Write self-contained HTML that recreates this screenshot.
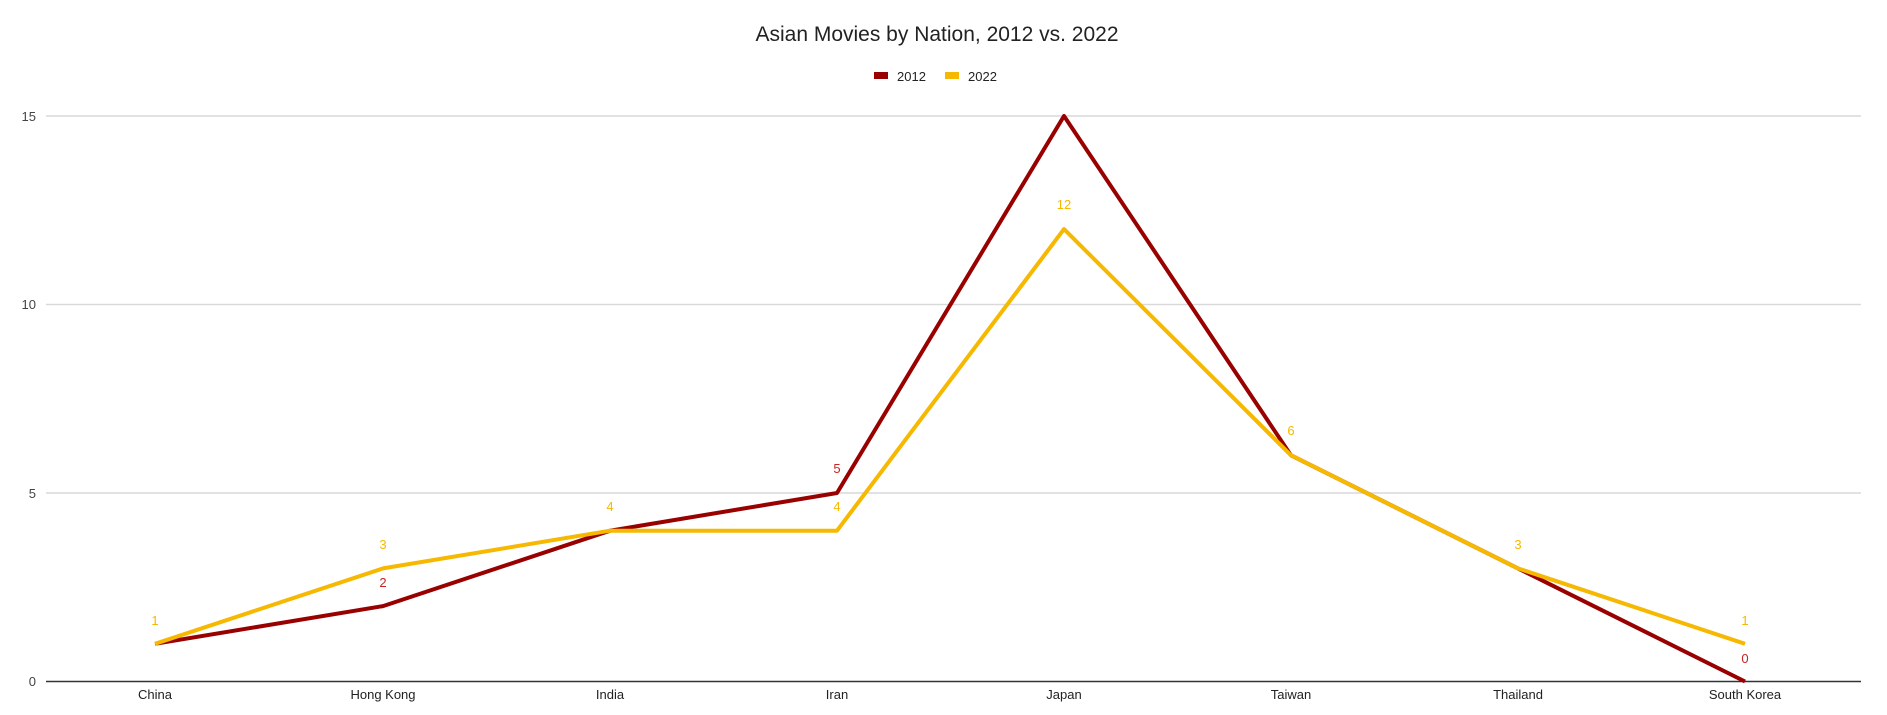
<!DOCTYPE html>
<html><head><meta charset="utf-8"><style>body{margin:0;background:#fff}svg{display:block}text{font-family:"Liberation Sans",Arial,sans-serif}</style></head><body>
<svg width="1887" height="715" viewBox="0 0 1887 715">
<text x="937" y="41" font-size="21" text-anchor="middle" fill="#222">Asian Movies by Nation, 2012 vs. 2022</text>
<rect x="874" y="72" width="14" height="7" fill="#990000"/>
<text x="897" y="81" font-size="13" fill="#222">2012</text>
<rect x="945" y="72" width="14" height="7" fill="#f6b800"/>
<text x="968" y="81" font-size="13" fill="#222">2022</text>
<g stroke="#d9d9d9" stroke-width="1.5">
<line x1="46" x2="1861" y1="116" y2="116"/><line x1="46" x2="1861" y1="304.5" y2="304.5"/><line x1="46" x2="1861" y1="493" y2="493"/>
</g>
<line x1="46" x2="1861" y1="681.5" y2="681.5" stroke="#333" stroke-width="1.5"/>
<g font-size="13" fill="#444" text-anchor="end">
<text x="36" y="121">15</text><text x="36" y="309">10</text><text x="36" y="498">5</text><text x="36" y="686">0</text>
</g>
<g font-size="13" fill="#222" text-anchor="middle">
<text x="155" y="699">China</text><text x="383" y="699">Hong Kong</text><text x="610" y="699">India</text><text x="837" y="699">Iran</text><text x="1064" y="699">Japan</text><text x="1291" y="699">Taiwan</text><text x="1518" y="699">Thailand</text><text x="1745" y="699">South Korea</text>
</g>
<polyline fill="none" stroke="#990000" stroke-width="4" stroke-linejoin="round" points="155,643.8 383,606.1 610,530.7 837,493 1064,116 1291,455.3 1518,568.4 1745,681.5"/>
<polyline fill="none" stroke="#f6b800" stroke-width="4" stroke-linejoin="round" points="155,643.8 383,568.4 610,530.7 837,530.7 1064,229.1 1291,455.3 1518,568.4 1745,643.8"/>
<g font-size="13" text-anchor="middle">
<g fill="#f6b800">
<text x="155" y="625">1</text><text x="383" y="549">3</text><text x="610" y="511">4</text><text x="837" y="511">4</text><text x="1064" y="209">12</text><text x="1291" y="435">6</text><text x="1518" y="549">3</text><text x="1745" y="625">1</text>
</g>
<g fill="#cc2222">
<text x="383" y="587">2</text><text x="837" y="473">5</text><text x="1745" y="663">0</text>
</g>
</g>
</svg>
</body></html>
